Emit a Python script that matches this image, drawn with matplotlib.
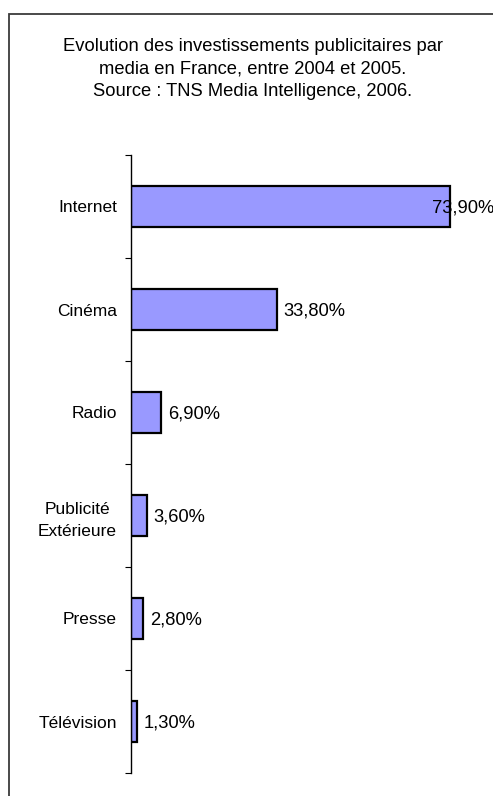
import matplotlib.pyplot as plt
from matplotlib.patches import Rectangle

plt.rcParams['font.family'] = ['Liberation Sans', 'DejaVu Sans']

# évolution 2004 -> 2005, en %
medias = ['Internet', 'Cinéma', 'Radio', 'Publicité\nExtérieure', 'Presse', 'Télévision']
evolution = [73.9, 33.8, 6.9, 3.6, 2.8, 1.3]
etiquettes = ['73,90%', '33,80%', '6,90%', '3,60%', '2,80%', '1,30%']

W, H, DPI = 493, 796, 100
fig = plt.figure(figsize=(W / DPI, H / DPI), dpi=DPI)

# cadre du graphique (déborde à droite et en bas)
fig.patches.append(Rectangle((8.5 / W, -0.05), 1.2, 1 - 13.5 / H + 0.05,
                             transform=fig.transFigure, fill=False,
                             edgecolor='#3a3a3a', linewidth=1.3))

fig.text(253 / W, 1 - 69 / H,
         'Evolution des investissements publicitaires par\n'
         'media en France, entre 2004 et 2005.\n'
         'Source : TNS Media Intelligence, 2006.',
         ha='center', va='center', fontsize=13.2, linespacing=1.4)

ax = fig.add_axes([131 / W, 1 - 773 / H, (476 - 131) / W, (773 - 155) / H])
pos = list(range(len(medias)))
ax.barh(pos, evolution, height=0.4, color='#9999ff', edgecolor='black', linewidth=1.6)
ax.set_ylim(len(medias) - 0.5, -0.5)
ax.set_xlim(0, 80)

for i, (v, lab) in enumerate(zip(evolution, etiquettes)):
    # l'étiquette d'Internet est repoussée contre le bord du cadre
    dx = -18 if i == 0 else 7
    ax.annotate(lab, (v, i), xytext=(dx * 0.72, -1.2), textcoords='offset points',
                ha='left', va='center', fontsize=13.2, annotation_clip=False)

for s in ['top', 'right', 'bottom']:
    ax.spines[s].set_visible(False)
ax.spines['left'].set_linewidth(1.0)
ax.set_xticks([])
ax.set_yticks([p - 0.5 for p in pos] + [len(medias) - 0.5])
ax.set_yticklabels([])
ax.set_yticks(pos, minor=True)
ax.set_yticklabels(medias, minor=True, fontsize=12.5, ha='right',
                   multialignment='center', linespacing=1.6)
ax.tick_params(axis='y', which='major', length=4.5, width=0.8)
ax.tick_params(axis='y', which='minor', length=0, pad=10)

fig.savefig('out.png', dpi=DPI)
